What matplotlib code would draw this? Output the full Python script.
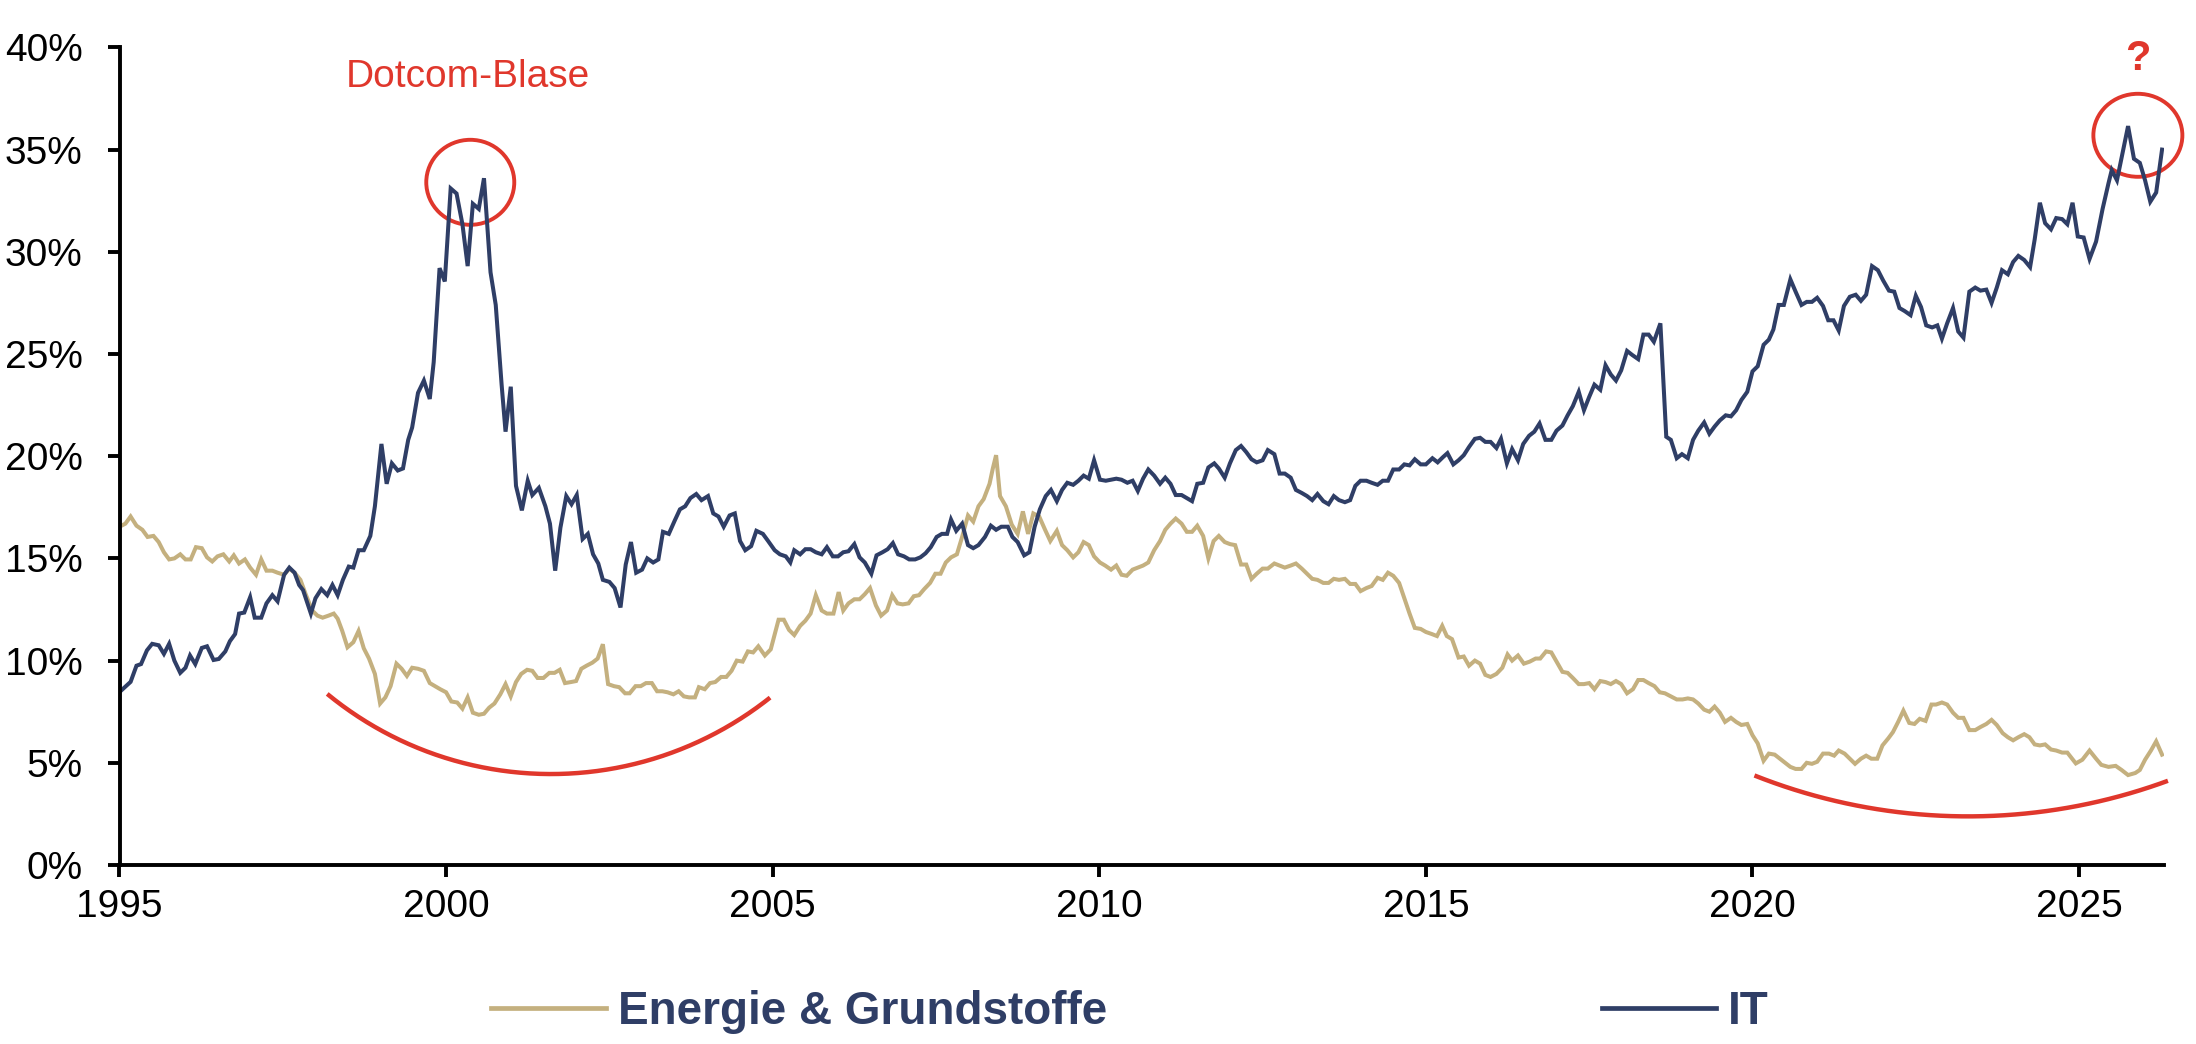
import numpy as np
import matplotlib
matplotlib.use("Agg")
import matplotlib.pyplot as plt
from matplotlib.lines import Line2D
from matplotlib.patches import Ellipse

plt.rcParams['font.family'] = ['Liberation Sans', 'DejaVu Sans']

# ---------------- data ----------------
it_years = [
    1995.00, 1995.17, 1995.26, 1995.33, 1995.42, 1995.50, 1995.60, 1995.68, 1995.76, 1995.84, 1995.93,
    1996.01, 1996.08, 1996.16, 1996.26, 1996.34, 1996.44, 1996.52, 1996.62, 1996.69, 1996.77, 1996.83, 1996.91,
    1997.00, 1997.07, 1997.17, 1997.25, 1997.34, 1997.42, 1997.52, 1997.60, 1997.68, 1997.75, 1997.81, 1997.93,
    1998.00, 1998.09, 1998.18, 1998.26, 1998.34, 1998.42, 1998.51, 1998.58, 1998.66, 1998.74, 1998.84, 1998.91,
    1999.01, 1999.09, 1999.17, 1999.26, 1999.34, 1999.42, 1999.48, 1999.57, 1999.66, 1999.75, 1999.81, 1999.90, 1999.98,
    2000.07, 2000.16, 2000.25, 2000.33, 2000.41, 2000.50, 2000.58, 2000.68, 2000.76, 2000.85, 2000.91, 2000.99,
    2001.07, 2001.16, 2001.25, 2001.32, 2001.42, 2001.52, 2001.59, 2001.67, 2001.75, 2001.84, 2001.92,
    2002.00, 2002.09, 2002.17, 2002.25, 2002.33, 2002.40, 2002.50, 2002.58, 2002.67, 2002.75, 2002.83, 2002.91,
    2003.00, 2003.08, 2003.17, 2003.25, 2003.32, 2003.41, 2003.50, 2003.58, 2003.66, 2003.74, 2003.83, 2003.91,
    2004.01, 2004.09, 2004.17, 2004.25, 2004.34, 2004.42, 2004.50, 2004.58, 2004.67, 2004.75, 2004.85, 2004.93,
    2005.03, 2005.11, 2005.20, 2005.27, 2005.33, 2005.42, 2005.50, 2005.58, 2005.66, 2005.75, 2005.83, 2005.92,
    2006.00, 2006.08, 2006.16, 2006.25, 2006.33, 2006.41, 2006.51, 2006.59, 2006.68, 2006.76, 2006.84, 2006.92,
    2007.01, 2007.09, 2007.18, 2007.26, 2007.34, 2007.42, 2007.51, 2007.59, 2007.67, 2007.73, 2007.81, 2007.90, 2007.99,
    2008.07, 2008.15, 2008.25, 2008.34, 2008.42, 2008.50, 2008.60, 2008.67, 2008.75, 2008.85, 2008.93,
    2009.01, 2009.09, 2009.18, 2009.26, 2009.35, 2009.43, 2009.51, 2009.60, 2009.68, 2009.76, 2009.84, 2009.92,
    2010.01, 2010.10, 2010.18, 2010.26, 2010.34, 2010.43, 2010.51, 2010.59, 2010.67, 2010.75, 2010.84, 2010.93,
    2011.01, 2011.09, 2011.17, 2011.26, 2011.34, 2011.42, 2011.50, 2011.59, 2011.67, 2011.76, 2011.83, 2011.92,
    2012.00, 2012.09, 2012.17, 2012.25, 2012.33, 2012.41, 2012.50, 2012.58, 2012.68, 2012.76, 2012.84, 2012.93,
    2013.01, 2013.10, 2013.18, 2013.26, 2013.34, 2013.43, 2013.51, 2013.59, 2013.67, 2013.76, 2013.84, 2013.92,
    2014.00, 2014.09, 2014.17, 2014.26, 2014.34, 2014.42, 2014.50, 2014.59, 2014.67, 2014.75, 2014.83, 2014.92,
    2015.00, 2015.10, 2015.18, 2015.26, 2015.33, 2015.42, 2015.50, 2015.58, 2015.66, 2015.75, 2015.83, 2015.91, 2015.99,
    2016.08, 2016.15, 2016.24, 2016.32, 2016.41, 2016.49, 2016.58, 2016.66, 2016.74, 2016.83, 2016.92,
    2017.00, 2017.09, 2017.17, 2017.25, 2017.34, 2017.42, 2017.50, 2017.58, 2017.67, 2017.75, 2017.83, 2017.91, 2017.99,
    2018.08, 2018.16, 2018.25, 2018.33, 2018.41, 2018.49, 2018.59, 2018.68, 2018.75, 2018.84, 2018.92,
    2019.01, 2019.09, 2019.17, 2019.26, 2019.34, 2019.42, 2019.50, 2019.59, 2019.67, 2019.75, 2019.83, 2019.92,
    2020.00, 2020.08, 2020.17, 2020.25, 2020.32, 2020.40, 2020.48, 2020.58, 2020.66, 2020.75, 2020.83, 2020.91, 2020.99,
    2021.08, 2021.16, 2021.24, 2021.32, 2021.40, 2021.49, 2021.58, 2021.66, 2021.74, 2021.83, 2021.92,
    2022.00, 2022.09, 2022.17, 2022.25, 2022.33, 2022.42, 2022.50, 2022.58, 2022.66, 2022.75, 2022.83, 2022.90, 2022.98,
    2023.07, 2023.15, 2023.23, 2023.32, 2023.41, 2023.49, 2023.58, 2023.66, 2023.74, 2023.82, 2023.91, 2023.99,
    2024.07, 2024.16, 2024.25, 2024.32, 2024.40, 2024.48, 2024.57, 2024.65, 2024.74, 2024.82, 2024.90, 2024.98,
    2025.07, 2025.16, 2025.26, 2025.36, 2025.45, 2025.50, 2025.58, 2025.67, 2025.75, 2025.84, 2025.93,
    2026.01, 2026.09, 2026.18, 2026.27,
]
it_values = [
    8.46, 8.96, 9.75, 9.83, 10.5, 10.82, 10.75, 10.33, 10.82, 10.0, 9.4,
    9.65, 10.25, 9.83, 10.62, 10.7, 10.03, 10.08, 10.45, 10.95, 11.3, 12.3, 12.35,
    13.1, 12.1, 12.1, 12.8, 13.2, 12.9, 14.2, 14.55, 14.3, 13.7, 13.45, 12.3,
    13.05, 13.5, 13.2, 13.7, 13.2, 13.95, 14.6, 14.55, 15.4, 15.4, 16.1, 17.55,
    20.6, 18.65, 19.65, 19.3, 19.4, 20.8, 21.4, 23.1, 23.7, 22.8, 24.6, 29.2, 28.55,
    33.1, 32.85, 31.35, 29.3, 32.35, 32.1, 33.6, 29.0, 27.4, 23.5, 21.2, 23.4,
    18.55, 17.35, 18.8, 18.1, 18.45, 17.55, 16.7, 14.4, 16.5, 18.05, 17.65,
    18.1, 15.95, 16.2, 15.2, 14.75, 13.95, 13.85, 13.55, 12.6, 14.7, 15.8, 14.3,
    14.45, 15.0, 14.8, 14.95, 16.3, 16.2, 16.85, 17.4, 17.55, 17.95, 18.15, 17.85,
    18.05, 17.2, 17.05, 16.55, 17.1, 17.2, 15.85, 15.4, 15.6, 16.35, 16.2, 15.85,
    15.4, 15.2, 15.1, 14.8, 15.4, 15.2, 15.45, 15.45, 15.3, 15.2, 15.55, 15.1,
    15.1, 15.3, 15.35, 15.7, 15.05, 14.8, 14.25, 15.15, 15.3, 15.45, 15.75, 15.2,
    15.1, 14.95, 14.95, 15.05, 15.25, 15.55, 16.05, 16.2, 16.2, 16.9, 16.35, 16.7, 15.65,
    15.5, 15.65, 16.05, 16.6, 16.4, 16.55, 16.55, 16.05, 15.8, 15.15, 15.3,
    16.55, 17.4, 18.05, 18.35, 17.8, 18.35, 18.7, 18.6, 18.8, 19.05, 18.9, 19.8,
    18.85, 18.8, 18.85, 18.9, 18.85, 18.7, 18.8, 18.3, 18.9, 19.35, 19.05, 18.65,
    18.95, 18.65, 18.1, 18.1, 17.95, 17.8, 18.65, 18.7, 19.45, 19.65, 19.4, 18.95,
    19.65, 20.3, 20.5, 20.2, 19.85, 19.7, 19.8, 20.3, 20.1, 19.15, 19.15, 18.95,
    18.35, 18.2, 18.05, 17.85, 18.15, 17.8, 17.65, 18.05, 17.85, 17.75, 17.85, 18.55,
    18.8, 18.8, 18.7, 18.6, 18.8, 18.8, 19.35, 19.35, 19.6, 19.55, 19.85, 19.6,
    19.6, 19.9, 19.7, 19.95, 20.15, 19.6, 19.8, 20.05, 20.45, 20.85, 20.9, 20.7, 20.7,
    20.4, 20.85, 19.65, 20.35, 19.8, 20.6, 21.0, 21.2, 21.6, 20.8, 20.8,
    21.25, 21.5, 22.0, 22.45, 23.15, 22.25, 22.9, 23.5, 23.25, 24.45, 24.0, 23.7, 24.2,
    25.15, 24.95, 24.75, 25.95, 25.95, 25.6, 26.5, 20.95, 20.8, 19.9, 20.1,
    19.9, 20.8, 21.25, 21.65, 21.1, 21.45, 21.75, 22.0, 21.95, 22.25, 22.75, 23.15,
    24.15, 24.4, 25.45, 25.7, 26.2, 27.4, 27.4, 28.65, 28.05, 27.4, 27.55, 27.55, 27.75,
    27.35, 26.65, 26.65, 26.15, 27.35, 27.8, 27.9, 27.6, 27.9, 29.3, 29.1,
    28.6, 28.1, 28.05, 27.25, 27.1, 26.9, 27.85, 27.3, 26.4, 26.3, 26.4, 25.75, 26.5,
    27.25, 26.1, 25.8, 28.05, 28.25, 28.1, 28.15, 27.5, 28.25, 29.1, 28.9, 29.5,
    29.8, 29.6, 29.25, 30.6, 32.4, 31.4, 31.1, 31.65, 31.6, 31.35, 32.4, 30.75,
    30.7, 29.65, 30.5, 32.1, 33.35, 34.0, 33.5, 34.9, 36.15, 34.55, 34.35,
    33.5, 32.45, 32.9, 35.0,
]

en_years = [
    1995.00, 1995.09, 1995.17, 1995.26, 1995.35, 1995.43, 1995.52, 1995.60, 1995.68, 1995.76, 1995.84, 1995.93,
    1996.01, 1996.09, 1996.17, 1996.26, 1996.34, 1996.42, 1996.50, 1996.59, 1996.68, 1996.75, 1996.83, 1996.92,
    1997.00, 1997.09, 1997.17, 1997.25, 1997.34, 1997.42, 1997.52, 1997.60, 1997.68, 1997.77, 1997.85, 1997.95,
    1998.03, 1998.11, 1998.20, 1998.28, 1998.34, 1998.41, 1998.49, 1998.58, 1998.66, 1998.74, 1998.82, 1998.91, 1998.99,
    1999.07, 1999.15, 1999.24, 1999.32, 1999.40, 1999.48, 1999.57, 1999.66, 1999.75, 1999.83, 1999.91,
    2000.00, 2000.08, 2000.17, 2000.25, 2000.33, 2000.41, 2000.50, 2000.58, 2000.66, 2000.74, 2000.83, 2000.91, 2000.99,
    2001.07, 2001.15, 2001.24, 2001.32, 2001.40, 2001.49, 2001.58, 2001.66, 2001.74, 2001.82, 2001.91, 2001.99,
    2002.07, 2002.15, 2002.24, 2002.32, 2002.40, 2002.48, 2002.57, 2002.65, 2002.74, 2002.81, 2002.90, 2002.98,
    2003.06, 2003.15, 2003.23, 2003.31, 2003.39, 2003.48, 2003.56, 2003.64, 2003.72, 2003.81, 2003.87, 2003.96,
    2004.04, 2004.12, 2004.21, 2004.29, 2004.37, 2004.45, 2004.54, 2004.62, 2004.70, 2004.78, 2004.88, 2004.97,
    2005.09, 2005.17, 2005.25, 2005.33, 2005.42, 2005.50, 2005.58, 2005.66, 2005.75, 2005.83, 2005.93,
    2006.01, 2006.08, 2006.16, 2006.25, 2006.33, 2006.41, 2006.49, 2006.58, 2006.66, 2006.75, 2006.83, 2006.91, 2006.99,
    2007.08, 2007.16, 2007.24, 2007.32, 2007.41, 2007.49, 2007.57, 2007.65, 2007.73, 2007.82, 2007.90, 2007.99,
    2008.07, 2008.15, 2008.23, 2008.32, 2008.37, 2008.42, 2008.48, 2008.57, 2008.66, 2008.75, 2008.83, 2008.91, 2008.99,
    2009.08, 2009.17, 2009.25, 2009.35, 2009.43, 2009.51, 2009.60, 2009.68, 2009.76, 2009.84, 2009.92,
    2010.01, 2010.09, 2010.18, 2010.26, 2010.34, 2010.42, 2010.51, 2010.59, 2010.67, 2010.75, 2010.84, 2010.93,
    2011.01, 2011.09, 2011.17, 2011.26, 2011.34, 2011.42, 2011.50, 2011.59, 2011.67, 2011.75, 2011.83, 2011.92,
    2012.00, 2012.08, 2012.17, 2012.25, 2012.33, 2012.41, 2012.50, 2012.58, 2012.68, 2012.76, 2012.84, 2012.93,
    2013.01, 2013.10, 2013.18, 2013.26, 2013.34, 2013.43, 2013.51, 2013.59, 2013.67, 2013.76, 2013.84, 2013.92,
    2014.00, 2014.09, 2014.17, 2014.26, 2014.34, 2014.42, 2014.50, 2014.59, 2014.67, 2014.75, 2014.83, 2014.92,
    2015.00, 2015.09, 2015.17, 2015.25, 2015.32, 2015.40, 2015.50, 2015.58, 2015.66, 2015.75, 2015.83, 2015.91, 2015.99,
    2016.08, 2016.17, 2016.25, 2016.32, 2016.41, 2016.50, 2016.59, 2016.68, 2016.75, 2016.84, 2016.92,
    2017.00, 2017.09, 2017.17, 2017.25, 2017.34, 2017.42, 2017.50, 2017.58, 2017.67, 2017.75, 2017.83, 2017.91, 2017.99,
    2018.08, 2018.17, 2018.25, 2018.33, 2018.41, 2018.50, 2018.58, 2018.66, 2018.75, 2018.84, 2018.93,
    2019.01, 2019.09, 2019.17, 2019.26, 2019.34, 2019.42, 2019.50, 2019.58, 2019.67, 2019.75, 2019.83, 2019.92,
    2020.00, 2020.08, 2020.17, 2020.25, 2020.34, 2020.42, 2020.50, 2020.58, 2020.66, 2020.75, 2020.83, 2020.91, 2020.99,
    2021.08, 2021.17, 2021.25, 2021.32, 2021.41, 2021.49, 2021.57, 2021.66, 2021.74, 2021.82, 2021.91, 2021.99,
    2022.08, 2022.15, 2022.23, 2022.31, 2022.40, 2022.48, 2022.56, 2022.65, 2022.74, 2022.81, 2022.90, 2022.98,
    2023.07, 2023.15, 2023.23, 2023.32, 2023.41, 2023.49, 2023.58, 2023.66, 2023.74, 2023.83, 2023.91, 2023.99,
    2024.07, 2024.16, 2024.24, 2024.32, 2024.40, 2024.48, 2024.57, 2024.65, 2024.74, 2024.82, 2024.95,
    2025.05, 2025.16, 2025.26, 2025.34, 2025.45, 2025.56, 2025.65, 2025.75, 2025.86, 2025.93,
    2026.01, 2026.10, 2026.18, 2026.27,
]
en_values = [
    16.55, 16.7, 17.05, 16.6, 16.4, 16.05, 16.1, 15.8, 15.3, 14.95, 15.0, 15.2,
    14.95, 14.95, 15.55, 15.5, 15.05, 14.85, 15.1, 15.2, 14.85, 15.15, 14.75, 14.95,
    14.55, 14.2, 14.95, 14.4, 14.4, 14.3, 14.2, 14.5, 14.3, 13.95, 13.25, 12.45,
    12.2, 12.1, 12.2, 12.3, 12.05, 11.45, 10.65, 10.9, 11.45, 10.6, 10.1, 9.35, 7.9,
    8.2, 8.75, 9.85, 9.6, 9.25, 9.65, 9.6, 9.5, 8.9, 8.75, 8.6,
    8.45, 8.0, 7.95, 7.65, 8.2, 7.45, 7.35, 7.4, 7.7, 7.9, 8.35, 8.85, 8.25,
    8.95, 9.35, 9.55, 9.5, 9.15, 9.15, 9.4, 9.4, 9.55, 8.9, 8.95, 9.0,
    9.6, 9.75, 9.9, 10.1, 10.8, 8.85, 8.75, 8.7, 8.4, 8.4, 8.75, 8.75,
    8.9, 8.9, 8.5, 8.5, 8.45, 8.35, 8.5, 8.25, 8.2, 8.2, 8.7, 8.6,
    8.9, 8.95, 9.2, 9.2, 9.5, 10.0, 9.95, 10.45, 10.4, 10.7, 10.25, 10.55,
    12.0, 12.0, 11.5, 11.25, 11.7, 11.95, 12.3, 13.2, 12.45, 12.3, 12.3,
    13.35, 12.45, 12.8, 13.0, 13.0, 13.25, 13.55, 12.7, 12.2, 12.45, 13.2, 12.8, 12.75,
    12.8, 13.15, 13.2, 13.5, 13.8, 14.25, 14.25, 14.8, 15.05, 15.2, 16.05, 17.1,
    16.8, 17.55, 17.9, 18.65, 19.4, 20.05, 18.05, 17.55, 16.65, 16.2, 17.3, 16.2, 17.2,
    17.05, 16.4, 15.85, 16.35, 15.65, 15.4, 15.05, 15.3, 15.8, 15.65, 15.1,
    14.8, 14.65, 14.45, 14.65, 14.2, 14.15, 14.45, 14.55, 14.65, 14.8, 15.4, 15.85,
    16.4, 16.7, 16.95, 16.7, 16.3, 16.3, 16.6, 16.1, 15.0, 15.85, 16.1, 15.8,
    15.7, 15.65, 14.7, 14.7, 14.0, 14.25, 14.5, 14.5, 14.75, 14.65, 14.55, 14.65,
    14.75, 14.5, 14.25, 14.0, 13.95, 13.8, 13.8, 14.0, 13.95, 14.0, 13.75, 13.75,
    13.4, 13.55, 13.65, 14.05, 13.95, 14.3, 14.15, 13.8, 13.05, 12.3, 11.6, 11.55,
    11.4, 11.3, 11.2, 11.7, 11.2, 11.05, 10.15, 10.2, 9.75, 10.0, 9.85, 9.3, 9.2,
    9.35, 9.65, 10.3, 10.0, 10.25, 9.85, 9.95, 10.1, 10.1, 10.45, 10.4,
    9.95, 9.45, 9.4, 9.15, 8.85, 8.85, 8.9, 8.6, 9.0, 8.95, 8.85, 9.0, 8.85,
    8.4, 8.6, 9.05, 9.05, 8.9, 8.75, 8.45, 8.4, 8.25, 8.1, 8.1,
    8.15, 8.1, 7.9, 7.6, 7.5, 7.75, 7.45, 7.0, 7.2, 7.0, 6.85, 6.9,
    6.35, 5.95, 5.1, 5.45, 5.4, 5.2, 5.0, 4.8, 4.7, 4.7, 5.0, 4.95, 5.05,
    5.45, 5.45, 5.35, 5.6, 5.45, 5.2, 4.95, 5.2, 5.35, 5.2, 5.2, 5.85,
    6.2, 6.5, 7.0, 7.55, 6.95, 6.9, 7.15, 7.05, 7.85, 7.85, 7.95, 7.85,
    7.45, 7.2, 7.2, 6.6, 6.6, 6.75, 6.9, 7.1, 6.85, 6.45, 6.25, 6.1,
    6.25, 6.4, 6.25, 5.9, 5.85, 5.9, 5.65, 5.6, 5.5, 5.5, 4.97,
    5.15, 5.6, 5.2, 4.9, 4.8, 4.85, 4.65, 4.4, 4.5, 4.65,
    5.15, 5.6, 6.05, 5.4,
]

series_labels = ["Energie & Grundstoffe", "IT"]
x_ticks = [1995, 2000, 2005, 2010, 2015, 2020, 2025]
y_ticks = [0, 5, 10, 15, 20, 25, 30, 35, 40]

# annotations (data coordinates)
dotcom_text = "Dotcom-Blase"
question_text = "?"
dotcom_circle = (2000.37, 33.4)
question_circle = (2025.90, 35.7)
arc1_pts = [(1998.18, 8.37), (2001.62, 4.45), (2004.96, 8.19)]
arc2_pts = [(2020.03, 4.38), (2023.22, 2.38), (2026.36, 4.12)]

# ---------------- styling ----------------
NAVY = "#2f3e66"
TAN = "#c4b07f"
RED = "#e0372c"

W, H = 2196, 1044
fig = plt.figure(figsize=(W / 100, H / 100), dpi=100)
ax = fig.add_axes([119.5 / W, 1 - 865 / H, (2164 - 119.5) / W, (865 - 47.4) / H])

ax.plot(en_years, en_values, color=TAN, lw=2.9, solid_joinstyle='miter')
ax.plot(it_years, it_values, color=NAVY, lw=2.9, solid_joinstyle='miter')

ax.set_xlim(1995, 2026.3)
ax.set_ylim(0, 40)
ax.set_xticks(x_ticks)
ax.set_xticklabels([str(v) for v in x_ticks])
ax.set_yticks(y_ticks)
ax.set_yticklabels([f"{v}%" for v in y_ticks])
for s in ("top", "right"):
    ax.spines[s].set_visible(False)
for s in ("left", "bottom"):
    ax.spines[s].set_linewidth(2.8)
    ax.spines[s].set_color("black")
ax.tick_params(axis='both', direction='out', length=8.5, width=2.8, colors='black',
               labelsize=28)
ax.tick_params(axis='y', pad=18)
ax.tick_params(axis='x', pad=9)

# annotations
ax.text(2000.34, 38.55, dotcom_text, color=RED, fontsize=28, ha='center', va='center')
ax.text(2025.90, 39.45, question_text, color=RED, fontsize=30, fontweight='bold',
        ha='center', va='center', clip_on=False)

px_x = ax.get_position().width * W / (2026.3 - 1995)   # pixels per year
px_y = ax.get_position().height * H / 40.0              # pixels per percent
ax.add_patch(Ellipse(dotcom_circle, width=88 / px_x, height=85 / px_y, fill=False,
                     edgecolor=RED, lw=2.8, clip_on=False))
ax.add_patch(Ellipse(question_circle, width=89 / px_x, height=83 / px_y, fill=False,
                     edgecolor=RED, lw=2.8, clip_on=False))


def arc_through(p_list, **kw):
    pts = ax.transData.transform(np.array(p_list))
    (x1, y1), (x2, y2), (x3, y3) = pts
    d = 2 * (x1 * (y2 - y3) + x2 * (y3 - y1) + x3 * (y1 - y2))
    ux = ((x1**2 + y1**2) * (y2 - y3) + (x2**2 + y2**2) * (y3 - y1) + (x3**2 + y3**2) * (y1 - y2)) / d
    uy = ((x1**2 + y1**2) * (x3 - x2) + (x2**2 + y2**2) * (x1 - x3) + (x3**2 + y3**2) * (x2 - x1)) / d
    r = np.hypot(x1 - ux, y1 - uy)
    a0 = np.arctan2(y1 - uy, x1 - ux)
    a2 = np.arctan2(y3 - uy, x3 - ux)
    t = np.linspace(a0, a2, 200)
    disp = np.column_stack([ux + r * np.cos(t), uy + r * np.sin(t)])
    data = ax.transData.inverted().transform(disp)
    ax.plot(data[:, 0], data[:, 1], clip_on=False, **kw)


arc_through(arc1_pts, color=RED, lw=3.2, solid_capstyle='butt')
arc_through(arc2_pts, color=RED, lw=3.2, solid_capstyle='butt')

# legend
handles = [Line2D([0], [0], color=TAN, lw=3.4), Line2D([0], [0], color=NAVY, lw=3.4)]
fig.legend(handles, series_labels, loc='center left',
           bbox_to_anchor=(491 / W, 1 - 1012 / H), ncol=2, frameon=False,
           prop={'weight': 'bold', 'size': 33}, labelcolor=NAVY,
           handlelength=2.5, handletextpad=0.26, columnspacing=10.8,
           borderpad=0, borderaxespad=0)

fig.savefig("out.png", dpi=100, facecolor='white')
